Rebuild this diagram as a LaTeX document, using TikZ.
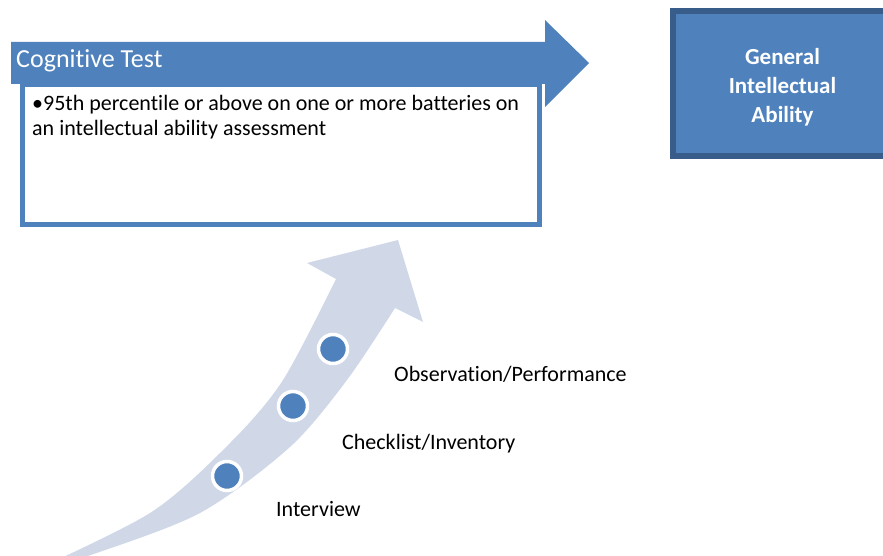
\documentclass[tikz,border=0pt]{standalone}
\usepackage{fontspec}
\setmainfont[Ligatures=NoCommon]{Carlito}
\usepackage{tikz}
\definecolor{mainblue}{HTML}{4F81BD}
\definecolor{darkblue}{HTML}{385D8A}
\definecolor{paleblue}{HTML}{D0D8E8}
\tikzset{dot/.style={circle,fill=mainblue,draw=white,line width=3.5pt,minimum size=29pt,inner sep=0pt},
        steplabel/.style={anchor=base west,inner sep=0pt,font=\fontsize{22}{26}\selectfont}}

\begin{document}
\begin{tikzpicture}[x=1pt,y=-1pt]
        \useasboundingbox (0,0) rectangle (883,556);
        \clip (0,0) rectangle (883,556);
        \fill[mainblue] (11,42) -- (545,42) -- (545,20) -- (589,63) -- (545,107) -- (545,84) -- (11,84) -- cycle;
        \node[anchor=base west,inner sep=0pt,text=white,font=\fontsize{26}{30}\selectfont] (title) at (16,68) {Cognitive Test};
        \node[draw=mainblue,line width=5pt,fill=white,minimum width=517pt,minimum height=140pt,outer sep=0pt,anchor=north west] (box) at (22.5,84.5) {};
        \node[anchor=north west,inner sep=0pt,align=left,font=\fontsize{22}{25}\selectfont] (bullets) at (32,95)
                {•95th percentile or above on one or more batteries on\\an intellectual ability assessment};
        \node[draw=darkblue,line width=6pt,fill=mainblue,minimum width=219pt,minimum height=145pt,outer sep=0pt] (ability) at (782.5,83.5) {};
        \node[text=white,align=center,font=\bfseries\fontsize{23}{29}\selectfont] (abilitytext) at ([yshift=-4pt]ability.center) {General\\Intellectual\\Ability};
        % curved arrow
        \fill[paleblue] plot[smooth] coordinates {(20,577) (150,513) (230,443) (283,380) (336,279)}
                -- (307,263) -- (398,240) -- (423,322) -- (395,308)
                -- plot[smooth] coordinates {(395,308) (347,380) (290,447) (200,513) (88,556) (20,577)} -- cycle;
        \foreach \Point/\Name in {(227,476)/dotinterview, (293,406)/dotchecklist, (333,349)/dotobservation}
        \node[dot] (\Name) at \Point {};
        \foreach \Point/\Name/\PointLabel in {(276,516)/interview/Interview, (342,449)/checklist/{Checklist/Inventory}, (394,381)/observation/{Observation/Performance}}
        \node[steplabel] (\Name) at \Point {\PointLabel};
\end{tikzpicture}
\end{document}
